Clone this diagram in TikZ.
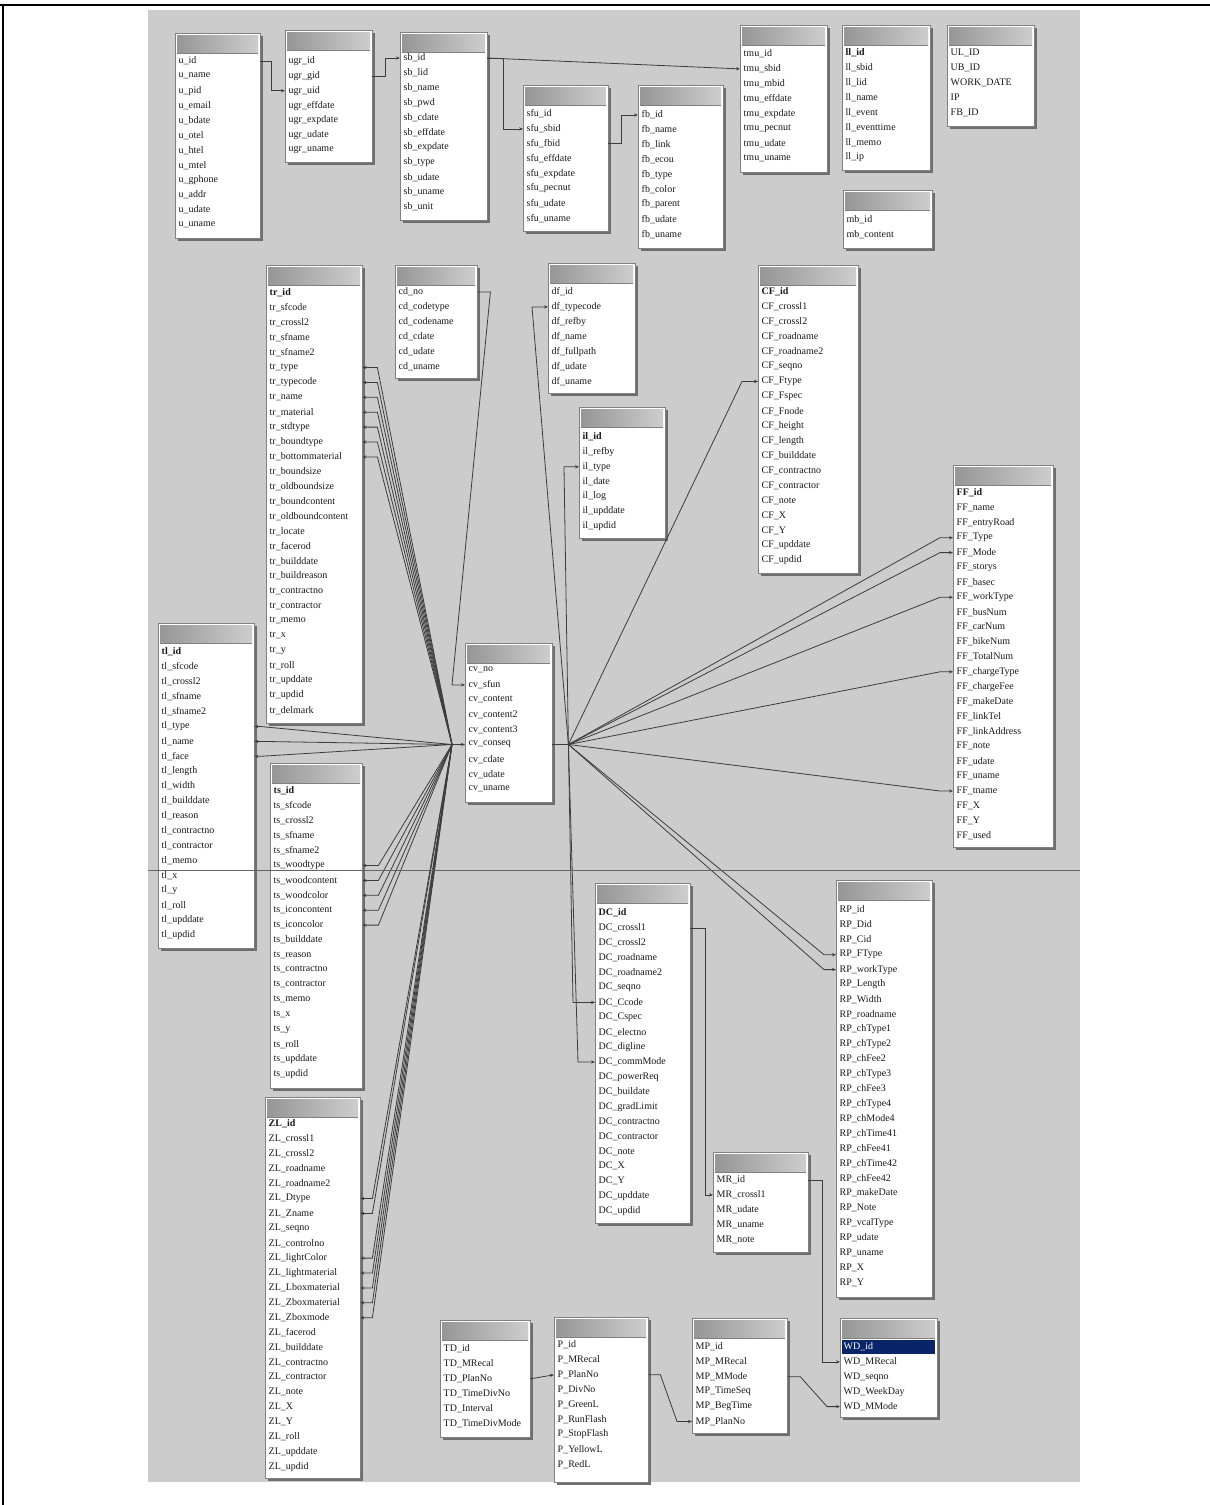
\documentclass[tikz,border=0pt]{standalone}
\usepackage{fontspec}
\setmainfont{Liberation Serif}
\usetikzlibrary{arrows.meta,calc}
\definecolor{bgc}{RGB}{204,204,204}
\definecolor{framec}{RGB}{128,128,128}
\definecolor{shadowc}{RGB}{110,110,110}
\definecolor{hdrL}{RGB}{150,150,150}
\definecolor{hdrR}{RGB}{205,205,205}
\definecolor{linec}{RGB}{60,60,60}
\definecolor{selc}{RGB}{10,36,106}
\tikzset{
  tframe/.style={draw=framec, line width=1pt, fill=white, inner sep=0pt, rectangle},
  rowtxt/.style={inner xsep=3.5pt, inner ysep=0pt, minimum height=14pt, align=left,
     font=\fontsize{10}{11}\selectfont, text=black!90},
  fk/.style={draw=linec, line width=0.8pt, -{Stealth[length=4pt,width=3.2pt]}},
  ln/.style={draw=linec, line width=0.8pt}
}
\newcommand\dbtable[7]{%
  \fill[shadowc] (#2+3,#3+3) rectangle (#2+#4+3,#3+#5+3);
  \node[tframe, minimum width=#4, minimum height=#5, anchor=north west] (#1) at (#2,#3) {};
  \shade[left color=hdrL, right color=hdrR] (#2+2,#3+2) rectangle (#2+#4-2,#3+20);
  \draw[framec] (#2+2,#3+20) -- (#2+#4-2,#3+20);
  \pgfmathsetmacro\tw{#4-7}%
  \foreach \t [count=\i] in {#7} {
    \node[rowtxt, text width=\tw pt, anchor=west] (#1-\i) at (#2, #6+14.9*\i-14.9) {\t};
  }%
}
\catcode`\_=12
\begin{document}
\begin{tikzpicture}[x=1pt,y=-1pt]
\useasboundingbox (0,0) rectangle (1210,1505);
\fill[white] (0,0) rectangle (1210,1505);
\fill[bgc] (148,10) rectangle (1080,1482);
\draw[black, line width=2pt] (0,5) -- (1210,5);
\draw[black, line width=2pt] (3,5) -- (3,1505);

\dbtable{u}{175}{33}{85}{205}{61}{u_id,u_name,u_pid,u_email,u_bdate,u_otel,u_htel,u_mtel,u_gphone,u_addr,u_udate,u_uname}
\dbtable{ugr}{285}{30}{87}{132}{61}{ugr_id,ugr_gid,ugr_uid,ugr_effdate,ugr_expdate,ugr_udate,ugr_uname}
\dbtable{sb}{400}{32}{87}{188}{58}{sb_id,sb_lid,sb_name,sb_pwd,sb_cdate,sb_effdate,sb_expdate,sb_type,sb_udate,sb_uname,sb_unit}
\dbtable{sfu}{523}{85}{85}{146}{114}{sfu_id,sfu_sbid,sfu_fbid,sfu_effdate,sfu_expdate,sfu_pecnut,sfu_udate,sfu_uname}
\dbtable{fb}{638}{85}{85}{163}{115}{fb_id,fb_name,fb_link,fb_ecou,fb_type,fb_color,fb_parent,fb_udate,fb_uname}
\dbtable{tmu}{740}{25}{87}{147}{54}{tmu_id,tmu_sbid,tmu_mbid,tmu_effdate,tmu_expdate,tmu_pecnut,tmu_udate,tmu_uname}
\dbtable{ll}{842}{25}{88}{145}{53}{\textbf{ll_id},ll_sbid,ll_lid,ll_name,ll_event,ll_eventtime,ll_memo,ll_ip}
\dbtable{ul}{947}{25}{87}{101}{53}{UL_ID,UB_ID,WORK_DATE,IP,FB_ID}
\dbtable{mb}{843}{190}{89}{58}{220}{mb_id,mb_content}

\dbtable{tr}{266}{265}{96}{458}{293}{\textbf{tr_id},tr_sfcode,tr_crossl2,tr_sfname,tr_sfname2,tr_type,tr_typecode,tr_name,tr_material,tr_stdtype,tr_boundtype,tr_bottommaterial,tr_boundsize,tr_oldboundsize,tr_boundcontent,tr_oldboundcontent,tr_locate,tr_facerod,tr_builddate,tr_buildreason,tr_contractno,tr_contractor,tr_memo,tr_x,tr_y,tr_roll,tr_upddate,tr_updid,tr_delmark}
\dbtable{cd}{395}{265}{82}{113}{292}{cd_no,cd_codetype,cd_codename,cd_cdate,cd_udate,cd_uname}
\dbtable{df}{548}{263}{87}{130}{292}{df_id,df_typecode,df_refby,df_name,df_fullpath,df_udate,df_uname}
\dbtable{il}{579}{407}{86}{131}{437}{\textbf{il_id},il_refby,il_type,il_date,il_log,il_upddate,il_updid}
\dbtable{CF}{758}{265}{100}{308}{292}{\textbf{CF_id},CF_crossl1,CF_crossl2,CF_roadname,CF_roadname2,CF_seqno,CF_Ftype,CF_Fspec,CF_Fnode,CF_height,CF_length,CF_builddate,CF_contractno,CF_contractor,CF_note,CF_X,CF_Y,CF_upddate,CF_updid}
\dbtable{FF}{953}{465}{100}{382}{493}{\textbf{FF_id},FF_name,FF_entryRoad,FF_Type,FF_Mode,FF_storys,FF_basec,FF_workType,FF_busNum,FF_carNum,FF_bikeNum,FF_TotalNum,FF_chargeType,FF_chargeFee,FF_makeDate,FF_linkTel,FF_linkAddress,FF_note,FF_udate,FF_uname,FF_tname,FF_X,FF_Y,FF_used}
\dbtable{tl}{158}{623}{96}{325}{652}{\textbf{tl_id},tl_sfcode,tl_crossl2,tl_sfname,tl_sfname2,tl_type,tl_name,tl_face,tl_length,tl_width,tl_builddate,tl_reason,tl_contractno,tl_contractor,tl_memo,tl_x,tl_y,tl_roll,tl_upddate,tl_updid}
\dbtable{cv}{465}{643}{87}{159}{670}{cv_no,cv_sfun,cv_content,cv_content2,cv_content3,cv_conseq,cv_cdate,cv_udate,cv_uname}
\dbtable{ts}{270}{763}{92}{325}{791}{\textbf{ts_id},ts_sfcode,ts_crossl2,ts_sfname,ts_sfname2,ts_woodtype,ts_woodcontent,ts_woodcolor,ts_iconcontent,ts_iconcolor,ts_builddate,ts_reason,ts_contractno,ts_contractor,ts_memo,ts_x,ts_y,ts_roll,ts_upddate,ts_updid}
\dbtable{ZL}{265}{1097}{95}{381}{1124}{\textbf{ZL_id},ZL_crossl1,ZL_crossl2,ZL_roadname,ZL_roadname2,ZL_Dtype,ZL_Zname,ZL_seqno,ZL_controlno,ZL_lightColor,ZL_lightmaterial,ZL_Lboxmaterial,ZL_Zboxmaterial,ZL_Zboxmode,ZL_facerod,ZL_builddate,ZL_contractno,ZL_contractor,ZL_note,ZL_X,ZL_Y,ZL_roll,ZL_upddate,ZL_updid}
\dbtable{DC}{595}{883}{95}{340}{913}{\textbf{DC_id},DC_crossl1,DC_crossl2,DC_roadname,DC_roadname2,DC_seqno,DC_Ccode,DC_Cspec,DC_electno,DC_digline,DC_commMode,DC_powerReq,DC_buildate,DC_gradLimit,DC_contractno,DC_contractor,DC_note,DC_X,DC_Y,DC_upddate,DC_updid}
\dbtable{MR}{713}{1152}{95}{100}{1180}{MR_id,MR_crossl1,MR_udate,MR_uname,MR_note}
\dbtable{RP}{836}{880}{96}{417}{910}{RP_id,RP_Did,RP_Cid,RP_FType,RP_workType,RP_Length,RP_Width,RP_roadname,RP_chType1,RP_chType2,RP_chFee2,RP_chType3,RP_chFee3,RP_chType4,RP_chMode4,RP_chTime41,RP_chFee41,RP_chTime42,RP_chFee42,RP_makeDate,RP_Note,RP_vcalType,RP_udate,RP_uname,RP_X,RP_Y}
\dbtable{TD}{440}{1320}{90}{117}{1349}{TD_id,TD_MRecal,TD_PlanNo,TD_TimeDivNo,TD_Interval,TD_TimeDivMode}
\dbtable{P}{554}{1317}{94}{165}{1345}{P_id,P_MRecal,P_PlanNo,P_DivNo,P_GreenL,P_RunFlash,P_StopFlash,P_YellowL,P_RedL}
\dbtable{MP}{692}{1318}{95}{115}{1347}{MP_id,MP_MRecal,MP_MMode,MP_TimeSeq,MP_BegTime,MP_PlanNo}
\dbtable{WD}{840}{1318}{97}{99}{1347}{{},WD_MRecal,WD_seqno,WD_WeekDay,WD_MMode}
\fill[selc] ($(WD-1.north west)+(2,0)$) rectangle ($(WD-1.south east)+(-2,0)$);
\node[rowtxt, text=white, text width=90pt, anchor=west] (WDsel) at (WD-1.west) {WD_id};

% junctions
\coordinate (JL) at ($(cv-6.west)+(-13,0)$);
\coordinate (JR) at ($(cv-6.east)+(16,0)$);

% connectors
\draw[fk] (u-1.east) -- ++(11,0) |- (ugr-3.west);
\draw[fk] (ugr-2.east) -- ++(13,0) |- (sb-1.west);
\draw[fk] (sb-1.east) -- (tmu-2.west);
\draw[fk] (sb-1.east) -- ++(16,0) |- (sfu-2.west);
\draw[fk] (sfu-3.east) -- ++(13,0) |- (fb-1.west);
\draw[fk] (cd-1.east) -- ++(13,0) -- (cv-2.west -| JL) -- (cv-2.west);
\draw[fk] (JL) -- (cv-6.west);
\draw[ln] (cv-6.east) -- (JR);
\foreach \i in {6,...,12} \draw[fk] (JL) -- ($(tr-\i.east)+(15,0)$) -- (tr-\i.east);
\foreach \i in {6,...,10} \draw[fk] (JL) -- ($(ts-\i.east)+(16,0)$) -- (ts-\i.east);
\foreach \i in {6,7,8} \draw[fk] (JL) -- ($(tl-\i.east)+(6,0)$) -- (tl-\i.east);
\foreach \i in {6,7,10,11,12,13,14} \draw[fk] (JL) -- ($(ZL-\i.east)+(12,0)$) -- (ZL-\i.east);
\draw[fk] (JR) -- ($(df-2.west)+(-16,0)$) -- (df-2.west);
\draw[fk] (JR) -- ($(il-3.west)+(-15,0)$) -- (il-3.west);
\draw[fk] (JR) -- ($(CF-7.west)+(-16,0)$) -- (CF-7.west);
\foreach \i in {4,5,8,13,21} \draw[fk] (JR) -- ($(FF-\i.west)+(-13,0)$) -- (FF-\i.west);
\draw[fk] (JR) -- ($(DC-7.west)+(-22,0)$) -- (DC-7.west);
\draw[fk] (JR) -- ($(DC-11.west)+(-17,0)$) -- (DC-11.west);
\foreach \i in {4,5} \draw[fk] (JR) -- ($(RP-\i.west)+(-12,0)$) -- (RP-\i.west);
\draw[fk] (DC-2.east) -- ++(15,0) |- (MR-2.west);
\draw[fk] (MR-1.east) -- ++(14,0) |- (WD-2.west);
\draw[fk] (TD-3.east) -- (P-3.west);
\draw[fk] (P-3.east) -- ++(12,0) -- ($(MP-6.west)+(-15,0)$) -- (MP-6.west);
\draw[fk] (MP-3.east) -- ++(13,0) -- ($(WD-5.west)+(-13,0)$) -- (WD-5.west);

% page break line
\draw[black!60, line width=1pt] (148,870) -- (1080,870);
\end{tikzpicture}
\end{document}
